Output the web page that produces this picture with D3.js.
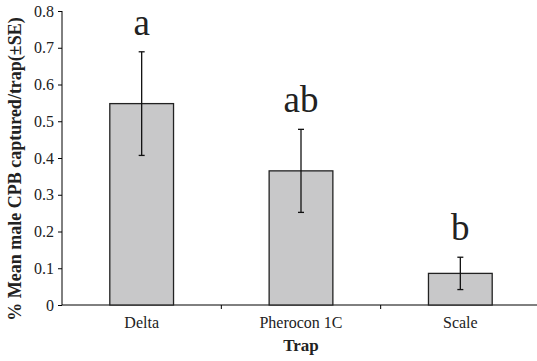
<!DOCTYPE html>
<meta charset="utf-8">
<style>
body { margin: 0; background: #fff; }
.axis path, .axis line { stroke: #000; }
</style>
<svg width="537" height="361"></svg>
<script src="https://d3js.org/d3.v7.min.js"></script>
<script>

var traps = ["Delta", "Pherocon 1C", "Scale"];
var means = [0.548, 0.365, 0.086];
var errs = [0.141, 0.113, 0.044];
var letters = ["a", "ab", "b"];
var yTicks = [0, 0.1, 0.2, 0.3, 0.4, 0.5, 0.6, 0.7, 0.8];

var svg = d3.select("svg");

var margin = {left: 62, top: 11, right: 0, bottom: 56},
    width = 540 - margin.left,
    height = 305 - margin.top;

var g = svg.append("g")
    .attr("transform", "translate(" + margin.left + "," + margin.top + ")");

var x = d3.scaleBand()
    .domain(traps)
    .range([0, width])
    .paddingInner(0.6)
    .paddingOuter(0.3);

var y = d3.scaleLinear()
    .domain([0, 0.8])
    .range([height, 0]);

// y axis
var ya = g.append("g")
    .attr("class", "axis")
    .call(d3.axisLeft(y).tickValues(yTicks).tickSize(4).tickPadding(4)
      .tickFormat(function(d) { return d === 0 ? "0" : d3.format(".1f")(d); }))
    .call(function(s) { s.select(".domain").attr("d", "M0," + height + "V0"); });
ya.selectAll("text")
    .attr("font-family", "Liberation Serif")
    .attr("font-size", 16)
    .attr("fill", "#222");

// x axis: ticks at band boundaries
var bounds = [1, 2].map(function(i) { return i * width / 3; });
var xa = g.append("g")
    .attr("transform", "translate(0," + height + ")");
xa.append("line").attr("x1", 0).attr("x2", width).attr("stroke", "#000");
xa.selectAll(".tk").data(bounds).enter().append("line")
    .attr("x1", function(d) { return d; })
    .attr("x2", function(d) { return d; })
    .attr("y1", 0).attr("y2", 4)
    .attr("stroke", "#000");
xa.selectAll(".lb").data(traps).enter().append("text")
    .attr("x", function(d) { return x(d) + x.bandwidth() / 2; })
    .attr("y", 23)
    .attr("text-anchor", "middle")
    .attr("font-family", "Liberation Serif")
    .attr("font-size", 16)
    .attr("fill", "#222")
    .text(function(d) { return d; });

// bars
g.selectAll(".bar").data(traps).enter().append("rect")
    .attr("x", function(d) { return x(d); })
    .attr("y", function(d, i) { return y(means[i]); })
    .attr("width", x.bandwidth())
    .attr("height", function(d, i) { return height - y(means[i]); })
    .attr("fill", "#c8c8c9")
    .attr("stroke", "#222")
    .attr("stroke-width", 1.3);

// error bars
traps.forEach(function(d, i) {
  var cx = x(d) + x.bandwidth() / 2;
  var lo = y(means[i] - errs[i]), hi = y(means[i] + errs[i]);
  g.append("line").attr("x1", cx).attr("x2", cx).attr("y1", lo).attr("y2", hi)
    .attr("stroke", "#111").attr("stroke-width", 1.3);
  [lo, hi].forEach(function(v) {
    g.append("line").attr("x1", cx - 3).attr("x2", cx + 3).attr("y1", v).attr("y2", v)
      .attr("stroke", "#111").attr("stroke-width", 1.3);
  });
  g.append("text")
    .attr("x", cx)
    .attr("y", hi - 17)
    .attr("text-anchor", "middle")
    .attr("font-family", "Liberation Serif")
    .attr("font-size", 37)
    .attr("fill", "#222")
    .text(letters[i]);
});

// axis titles
svg.append("text")
    .attr("transform", "translate(21,169) rotate(-90)")
    .attr("text-anchor", "middle")
    .attr("font-family", "Liberation Serif")
    .attr("font-size", 18)
    .attr("font-weight", "bold")
    .attr("fill", "#222")
    .text("% Mean male CPB captured/trap(\u00b1SE)");

svg.append("text")
    .attr("x", margin.left + width / 2)
    .attr("y", 351)
    .attr("text-anchor", "middle")
    .attr("font-family", "Liberation Serif")
    .attr("font-size", 17)
    .attr("font-weight", "bold")
    .attr("fill", "#222")
    .text("Trap");

</script>
